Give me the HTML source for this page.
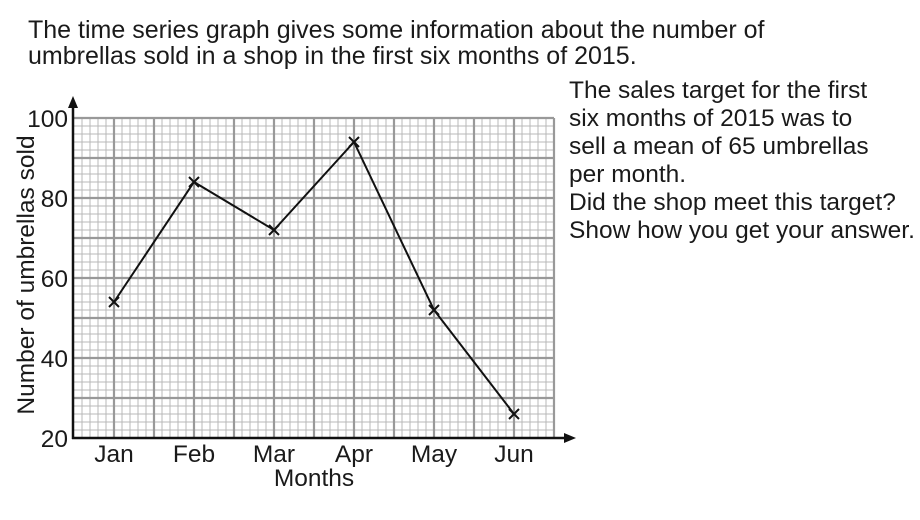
<!DOCTYPE html>
<html><head><meta charset="utf-8"><style>
html,body{margin:0;padding:0;background:#fff;}
svg{display:block;}
text{font-family:"Liberation Sans",Arial,sans-serif;fill:#1a1a1a;}
</style></head><body>
<svg width="920" height="520" viewBox="0 0 920 520" xmlns="http://www.w3.org/2000/svg">
<text x="28" y="38" font-size="25">The time series graph gives some information about the number of</text>
<text x="28" y="64" font-size="25">umbrellas sold in a shop in the first six months of 2015.</text>
<g font-size="24.5">
<text x="569" y="98">The sales target for the first</text>
<text x="569" y="126">six months of 2015 was to</text>
<text x="569" y="154">sell a mean of 65 umbrellas</text>
<text x="569" y="182">per month.</text>
<text x="569" y="210">Did the shop meet this target?</text>
<text x="569" y="238">Show how you get your answer.</text>
</g>
<g id="grid">
<g stroke="#b8b8b8" stroke-width="1">
<path d="M82 118V438M90 118V438M98 118V438M106 118V438M122 118V438M130 118V438M138 118V438M146 118V438M162 118V438M170 118V438M178 118V438M186 118V438M202 118V438M210 118V438M218 118V438M226 118V438M242 118V438M250 118V438M258 118V438M266 118V438M282 118V438M290 118V438M298 118V438M306 118V438M322 118V438M330 118V438M338 118V438M346 118V438M362 118V438M370 118V438M378 118V438M386 118V438M402 118V438M410 118V438M418 118V438M426 118V438M442 118V438M450 118V438M458 118V438M466 118V438M482 118V438M490 118V438M498 118V438M506 118V438M522 118V438M530 118V438M538 118V438M546 118V438"/>
<path d="M74 126H554M74 134H554M74 142H554M74 150H554M74 166H554M74 174H554M74 182H554M74 190H554M74 206H554M74 214H554M74 222H554M74 230H554M74 246H554M74 254H554M74 262H554M74 270H554M74 286H554M74 294H554M74 302H554M74 310H554M74 326H554M74 334H554M74 342H554M74 350H554M74 366H554M74 374H554M74 382H554M74 390H554M74 406H554M74 414H554M74 422H554M74 430H554"/>
</g>
<g stroke="#999" stroke-width="2.2">
<path d="M114 118V438M154 118V438M194 118V438M234 118V438M274 118V438M314 118V438M354 118V438M394 118V438M434 118V438M474 118V438M514 118V438M554 118V438"/>
<path d="M74 118H554M74 158H554M74 198H554M74 238H554M74 278H554M74 318H554M74 358H554M74 398H554"/>
</g>
</g>
<g stroke="#111" stroke-width="2.5" fill="none">
<path d="M73 439V104"/>
<path d="M72 438H566"/>
</g>
<path d="M73 96L68 108H78Z" fill="#111"/>
<path d="M576 438L564 433V443Z" fill="#111"/>
<polyline points="114,302 194,182 274,230 354,142 434,310 514,414" fill="none" stroke="#111" stroke-width="2"/>
<g stroke="#111" stroke-width="2">
<path d="M109 297l10 10M119 297l-10 10"/>
<path d="M189 177l10 10M199 177l-10 10"/>
<path d="M269 225l10 10M279 225l-10 10"/>
<path d="M349 137l10 10M359 137l-10 10"/>
<path d="M429 305l10 10M439 305l-10 10"/>
<path d="M509 409l10 10M519 409l-10 10"/>
</g>
<g font-size="24.5" text-anchor="end">
<text x="68" y="127">100</text>
<text x="68" y="207">80</text>
<text x="68" y="287">60</text>
<text x="68" y="367">40</text>
<text x="68" y="447">20</text>
</g>
<g font-size="24.5" text-anchor="middle">
<text x="114" y="462">Jan</text>
<text x="194" y="462">Feb</text>
<text x="274" y="462">Mar</text>
<text x="354" y="462">Apr</text>
<text x="434" y="462">May</text>
<text x="514" y="462">Jun</text>
<text x="314" y="486">Months</text>
<text transform="translate(34,275) rotate(-90)">Number of umbrellas sold</text>
</g>
</svg>
</body></html>
